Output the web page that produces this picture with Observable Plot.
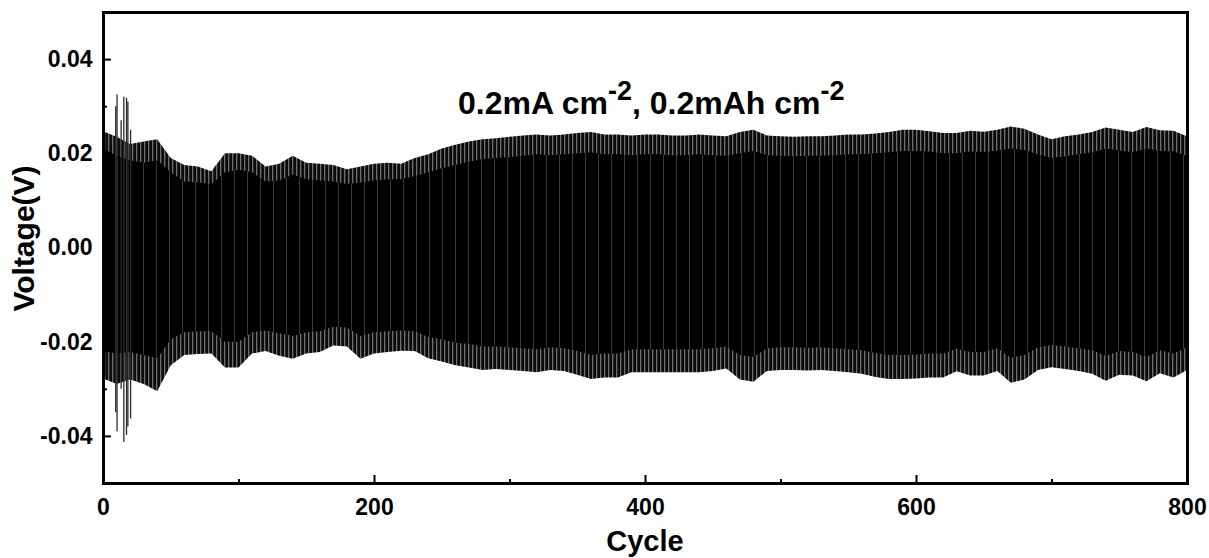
<!DOCTYPE html>
<html>
<head>
<meta charset="utf-8">
<script src="https://cdn.jsdelivr.net/npm/d3@7"></script>
<script src="https://cdn.jsdelivr.net/npm/@observablehq/plot@0.6"></script>
<style>
  html, body { margin: 0; padding: 0; background: #fff; }
  #chart { width: 1209px; height: 558px; }
</style>
</head>
<body>
<svg width="0" height="0" style="position:absolute">
  <defs>
    <pattern id="fringe" patternUnits="userSpaceOnUse" width="4" height="10">
      <rect width="4" height="10" fill="#0c0c0c"></rect>
      <rect x="0" width="1.3" height="10" fill="#6e6e6e"></rect>
    </pattern>
    <pattern id="core" patternUnits="userSpaceOnUse" width="13" height="10">
      <rect width="13" height="10" fill="#000"></rect>
      <rect x="0" width="0.9" height="10" fill="#3e3e3e"></rect>
    </pattern>
  </defs>
</svg>
<div id="chart"></div>
<script>
// ---- data (envelopes of the voltage trace) ----
const cycles = [0,10,20,30,40,50,60,70,80,90,100,110,120,130,140,150,160,170,180,190,200,210,220,230,240,250,260,270,280,290,300,310,320,330,340,350,360,370,380,390,400,410,420,430,440,450,460,470,480,490,500,510,520,530,540,550,560,570,580,590,600,610,620,630,640,650,660,670,680,690,700,710,720,730,740,750,760,770,780,790,800];
const upperOuter = [0.0247,0.0235,0.0220,0.0225,0.0230,0.0190,0.0175,0.0172,0.0162,0.0200,0.0200,0.0195,0.0172,0.0178,0.0195,0.0180,0.0178,0.0175,0.0166,0.0172,0.0178,0.0180,0.0178,0.0190,0.0198,0.0210,0.0218,0.0225,0.0230,0.0232,0.0235,0.0238,0.0240,0.0238,0.0240,0.0243,0.0245,0.0240,0.0240,0.0238,0.0240,0.0240,0.0238,0.0238,0.0240,0.0238,0.0236,0.0245,0.0250,0.0238,0.0236,0.0235,0.0236,0.0236,0.0238,0.0240,0.0240,0.0242,0.0245,0.0250,0.0250,0.0247,0.0243,0.0243,0.0248,0.0246,0.0250,0.0257,0.0252,0.0240,0.0230,0.0236,0.0240,0.0245,0.0255,0.0250,0.0245,0.0256,0.0249,0.0248,0.0236];
const upperCore = [0.0210,0.0195,0.0185,0.0180,0.0185,0.0160,0.0140,0.0138,0.0135,0.0160,0.0165,0.0160,0.0140,0.0142,0.0155,0.0145,0.0142,0.0140,0.0135,0.0138,0.0142,0.0145,0.0145,0.0152,0.0160,0.0168,0.0175,0.0182,0.0188,0.0190,0.0192,0.0195,0.0198,0.0196,0.0198,0.0200,0.0202,0.0198,0.0198,0.0196,0.0198,0.0198,0.0196,0.0196,0.0198,0.0196,0.0195,0.0200,0.0205,0.0196,0.0195,0.0194,0.0195,0.0195,0.0196,0.0198,0.0198,0.0200,0.0202,0.0205,0.0205,0.0204,0.0200,0.0200,0.0204,0.0203,0.0206,0.0210,0.0207,0.0198,0.0190,0.0194,0.0198,0.0202,0.0210,0.0206,0.0202,0.0210,0.0205,0.0204,0.0195];
const lowerOuter = [-0.0278,-0.0290,-0.0280,-0.0290,-0.0305,-0.0250,-0.0228,-0.0226,-0.0225,-0.0255,-0.0255,-0.0225,-0.0220,-0.0230,-0.0236,-0.0225,-0.0222,-0.0208,-0.0210,-0.0236,-0.0225,-0.0222,-0.0219,-0.0220,-0.0235,-0.0242,-0.0250,-0.0255,-0.0260,-0.0258,-0.0260,-0.0262,-0.0265,-0.0260,-0.0262,-0.0270,-0.0279,-0.0276,-0.0276,-0.0265,-0.0265,-0.0265,-0.0265,-0.0265,-0.0265,-0.0262,-0.0257,-0.0280,-0.0285,-0.0262,-0.0260,-0.0260,-0.0261,-0.0260,-0.0262,-0.0265,-0.0268,-0.0275,-0.0279,-0.0279,-0.0278,-0.0276,-0.0276,-0.0263,-0.0272,-0.0272,-0.0262,-0.0287,-0.0280,-0.0260,-0.0254,-0.0258,-0.0262,-0.0268,-0.0283,-0.0270,-0.0272,-0.0284,-0.0267,-0.0276,-0.0260];
const lowerCore = [-0.0220,-0.0225,-0.0222,-0.0228,-0.0235,-0.0195,-0.0180,-0.0178,-0.0178,-0.0200,-0.0200,-0.0180,-0.0176,-0.0182,-0.0188,-0.0180,-0.0178,-0.0168,-0.0170,-0.0188,-0.0180,-0.0178,-0.0176,-0.0178,-0.0190,-0.0195,-0.0202,-0.0205,-0.0210,-0.0210,-0.0212,-0.0214,-0.0216,-0.0212,-0.0214,-0.0220,-0.0228,-0.0225,-0.0225,-0.0216,-0.0216,-0.0216,-0.0216,-0.0216,-0.0216,-0.0214,-0.0210,-0.0228,-0.0232,-0.0214,-0.0212,-0.0212,-0.0213,-0.0212,-0.0214,-0.0216,-0.0218,-0.0224,-0.0228,-0.0228,-0.0227,-0.0225,-0.0225,-0.0215,-0.0222,-0.0222,-0.0214,-0.0234,-0.0228,-0.0212,-0.0207,-0.0210,-0.0214,-0.0218,-0.0230,-0.0220,-0.0222,-0.0232,-0.0218,-0.0225,-0.0212];
// early overshoot cycles
const spikeCycles = [9, 10, 13, 15, 17, 18, 20];
const spikeHigh = [0.0300, 0.0325, 0.0270, 0.0320, 0.0318, 0.0310, 0.0250];
const spikeLow = [-0.0350, -0.0390, -0.0300, -0.0413, -0.0398, -0.0380, -0.0363];

// axes
const xTicks = [0, 200, 400, 600, 800];
const xMinor = [100, 300, 500, 700];
const yTicks = [-0.04, -0.02, 0, 0.02, 0.04];
const yMinor = [-0.03, -0.01, 0.01, 0.03];
const xLabel = "Cycle";
const yLabel = "Voltage(V)";
const annotationCycle = 262;
const annotationVolt = 0.0283;

const envelope = cycles.map((c, i) => ({
  cycle: c, hi: upperOuter[i], lo: lowerOuter[i], hiCore: upperCore[i], loCore: lowerCore[i]
}));
const spikes = spikeCycles.map((c, i) => ({cycle: c, hi: spikeHigh[i], lo: spikeLow[i]}));

const W = 1209, H = 558;
const mL = 103, mR = 22, mT = 12, mB = 75;
const pw = W - mL - mR, ph = H - mT - mB;
const font = "'Liberation Sans', Arial, Helvetica, sans-serif";

const plot = Plot.plot({
  width: W,
  height: H,
  marginLeft: mL,
  marginRight: mR,
  marginTop: mT,
  marginBottom: mB,
  style: {fontFamily: font, fontWeight: "bold", fontSize: "23px", color: "#000", background: "#fff"},
  x: {domain: [0, 800]},
  y: {domain: [-0.05, 0.05]},
  marks: [
    Plot.areaY(envelope, {x: "cycle", y1: "lo", y2: "hi", fill: "url(#fringe)"}),
    Plot.areaY(envelope, {x: "cycle", y1: "loCore", y2: "hiCore", fill: "url(#core)"}),
    Plot.ruleX(spikes, {x: "cycle", y1: "lo", y2: "hi", stroke: "#2a2a2a", strokeWidth: 1.3}),
    Plot.axisX(xTicks, {tickSize: 0, tickPadding: 15, label: null, fontSize: 23, fontWeight: "bold"}),
    Plot.axisY(yTicks, {tickSize: 0, tickPadding: 11, label: null, tickFormat: d => d.toFixed(2), fontSize: 23, fontWeight: "bold"}),
    Plot.tickX(xTicks, {x: d => d, insetTop: ph - 8, stroke: "#000", strokeWidth: 2}),
    Plot.tickX(xMinor, {x: d => d, insetTop: ph - 4, stroke: "#000", strokeWidth: 2}),
    Plot.tickY(yTicks, {y: d => d, insetRight: pw - 8, stroke: "#000", strokeWidth: 2}),
    Plot.tickY(yMinor, {y: d => d, insetRight: pw - 4, stroke: "#000", strokeWidth: 2}),
    Plot.frame({stroke: "#000", strokeWidth: 3})
  ]
});

const svg = d3.select(plot);
const sx = plot.scale("x"), sy = plot.scale("y");

// annotation with superscripts
const ann = svg.append("text")
  .attr("x", sx.apply(annotationCycle))
  .attr("y", sy.apply(annotationVolt))
  .attr("text-anchor", "start")
  .attr("font-family", font)
  .attr("font-weight", "bold")
  .attr("font-size", 32)
  .attr("fill", "#000");
ann.append("tspan").text("0.2mA cm");
ann.append("tspan").attr("font-size", 27).attr("dy", -14).text("-2");
ann.append("tspan").attr("dy", 14).text(", 0.2mAh cm");
ann.append("tspan").attr("font-size", 27).attr("dy", -14).text("-2");

// axis titles
svg.append("text")
  .attr("x", mL + pw / 2)
  .attr("y", 551)
  .attr("text-anchor", "middle")
  .attr("font-family", font)
  .attr("font-weight", "bold")
  .attr("font-size", 29)
  .attr("fill", "#000")
  .text(xLabel);

svg.append("text")
  .attr("transform", `translate(34, ${mT + ph / 2 - 9}) rotate(-90)`)
  .attr("text-anchor", "middle")
  .attr("font-family", font)
  .attr("font-weight", "bold")
  .attr("font-size", 30)
  .attr("fill", "#000")
  .text(yLabel);

document.getElementById("chart").appendChild(plot);
</script>
</body>
</html>
